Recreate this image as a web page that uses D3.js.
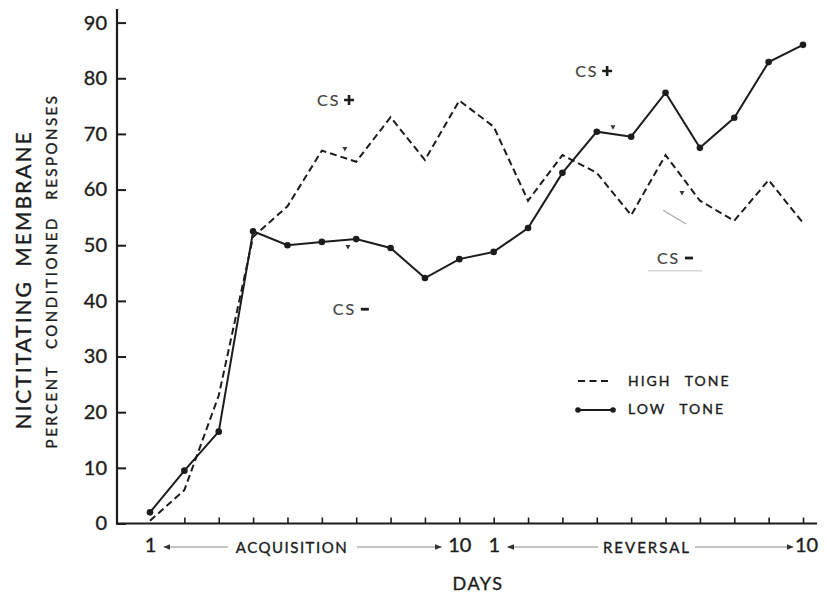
<!DOCTYPE html>
<html>
<head>
<meta charset="utf-8">
<script src="https://cdn.jsdelivr.net/npm/d3@7"></script>
<style>
  body { margin: 0; background: #fff; }
  text { font-family: Lato, "Open Sans", sans-serif; fill: #1c1c1c; stroke: #1c1c1c; stroke-width: 0.35px; }
</style>
</head>
<body>
<div id="chart"></div>
<script>
// 20 daily sessions: 10 acquisition days then 10 reversal days
const sessions = d3.range(20)
const dayLabels = ["1", "", "", "", "", "", "", "", "", "10", "1", "", "", "", "", "", "", "", "", "10"]
const highTone = [0.5, 6, 23, 51.5, 57, 67, 65, 73, 65.3, 76, 71.3, 58, 66.2, 63, 55.4, 66.2, 58, 54.4, 61.7, 54]
const lowTone = [2, 9.5, 16.5, 52.5, 50, 50.6, 51.1, 49.5, 44.1, 47.5, 48.8, 53.1, 63, 70.4, 69.5, 77.4, 67.5, 72.9, 82.9, 86]
const yTicks = [0, 10, 20, 30, 40, 50, 60, 70, 80, 90]

// CS labels, placed in data units (session index, percent)
const notes = [
    { sign: "+", x: 4.86, y: 76.1 },
    { sign: "+", x: 12.37, y: 81.3 },
    { sign: "-", x: 5.32, y: 38.5 },
    { sign: "-", x: 14.75, y: 47.7 }
]
const pointers = [[5.67, 67.3], [13.47, 71.2], [5.76, 49.7], [15.48, 59.4]]

const width = 827
const height = 593

const svg = d3.select('#chart')
    .append('svg')
    .attr('width', width)
    .attr('height', height)

const xScale = d3.scalePoint()
    .domain(sessions)
    .range([150, 803])

const yScale = d3.scaleLinear()
    .domain([0, 90])
    .range([523.5, 22.6])

const ink = '#1c1c1c'

// axes
const yAxis = d3.axisLeft(yScale)
    .tickValues(yTicks)
    .tickSizeInner(-9)
    .tickSizeOuter(0)
    .tickPadding(10)

const yAxisGroup = svg.append('g')
    .attr('transform', `translate(117, 0)`)
    .call(yAxis)
yAxisGroup.select('.domain').remove()
yAxisGroup.selectAll('line').attr('stroke', ink).attr('stroke-width', 2)
yAxisGroup.selectAll('text')
    .style('font-size', '20px')
    .attr('fill', ink)

svg.append('line')
    .attr('x1', 117).attr('x2', 117)
    .attr('y1', yScale(0) + 1).attr('y2', 9)
    .attr('stroke', ink).attr('stroke-width', 2.2)

const xAxis = d3.axisBottom(xScale)
    .tickSizeInner(-6)
    .tickSizeOuter(0)
    .tickPadding(14)
    .tickFormat(i => dayLabels[i])

const xAxisGroup = svg.append('g')
    .attr('transform', `translate(0, ${yScale(0)})`)
    .call(xAxis)
xAxisGroup.select('.domain').remove()
xAxisGroup.selectAll('line')
    .attr('stroke', ink).attr('stroke-width', 1.6)
    .attr('display', d => d === 0 ? 'none' : null)
xAxisGroup.selectAll('text')
    .style('font-size', '20px')
    .attr('fill', ink)
    .attr('dx', d => d === 19 ? 3 : 0)

svg.append('line')
    .attr('x1', 116).attr('x2', 817)
    .attr('y1', yScale(0)).attr('y2', yScale(0))
    .attr('stroke', ink).attr('stroke-width', 2.2)

// arrows under the x axis
const defs = svg.append('defs')
defs.append('marker')
    .attr('id', 'head')
    .attr('viewBox', '0 0 10 10')
    .attr('refX', 9).attr('refY', 5)
    .attr('markerWidth', 7).attr('markerHeight', 7)
    .attr('markerUnits', 'userSpaceOnUse')
    .attr('orient', 'auto-start-reverse')
    .append('path')
    .attr('d', 'M0,1 L10,5 L0,9 Z')
    .attr('fill', '#333')

const labelY = 547
const arrows = [[xScale(0) + 14, 228], [357, xScale(9) - 18], [xScale(10) + 14, 598], [695, xScale(19) - 10]]
arrows.forEach(([a, b], i) => {
    svg.append('line')
        .attr('x1', a).attr('x2', b)
        .attr('y1', labelY).attr('y2', labelY)
        .attr('stroke', '#8a8a8a').attr('stroke-width', 1.2)
        .attr(i % 2 === 0 ? 'marker-start' : 'marker-end', 'url(#head)')
})

svg.append('text')
    .attr('x', 292).attr('y', labelY + 6)
    .attr('text-anchor', 'middle')
    .style('font-size', '15px')
    .style('letter-spacing', '1.5px')
    .text('ACQUISITION')

svg.append('text')
    .attr('x', 647).attr('y', labelY + 6)
    .attr('text-anchor', 'middle')
    .style('font-size', '15px')
    .style('letter-spacing', '2px')
    .text('REVERSAL')

svg.append('text')
    .attr('x', 478).attr('y', 590)
    .attr('text-anchor', 'middle')
    .style('font-size', '18px')
    .style('letter-spacing', '1.5px')
    .text('DAYS')

// y titles
svg.append('text')
    .attr('transform', 'translate(31, 280) rotate(-90)')
    .attr('text-anchor', 'middle')
    .style('font-size', '21px')
    .style('letter-spacing', '2px')
    .style('word-spacing', '6px')
    .text('NICTITATING MEMBRANE')

svg.append('text')
    .attr('transform', 'translate(57, 271) rotate(-90)')
    .attr('text-anchor', 'middle')
    .style('font-size', '15px')
    .style('letter-spacing', '2.5px')
    .style('word-spacing', '10px')
    .text('PERCENT CONDITIONED RESPONSES')

// series
const line = d3.line()
    .x((d, i) => xScale(i))
    .y(d => yScale(d))

svg.append('path')
    .datum(highTone)
    .attr('fill', 'none')
    .attr('stroke', ink)
    .attr('stroke-width', 2)
    .attr('stroke-dasharray', '7 4')
    .attr('d', line)

svg.append('path')
    .datum(lowTone)
    .attr('fill', 'none')
    .attr('stroke', ink)
    .attr('stroke-width', 2)
    .attr('d', line)

svg.selectAll('.dot')
    .data(lowTone)
    .enter()
    .append('circle')
    .attr('class', 'dot')
    .attr('cx', (d, i) => xScale(i))
    .attr('cy', d => yScale(d))
    .attr('r', 3.3)
    .attr('fill', ink)

// CS labels
const step = xScale.step()
const dx = v => 150 + v * step

const noteGroups = svg.selectAll('.note')
    .data(notes)
    .enter()
    .append('g')
    .attr('class', 'note')
    .attr('transform', d => `translate(${dx(d.x)}, ${yScale(d.y)})`)

noteGroups.append('text')
    .attr('y', 6)
    .style('font-size', '16px')
    .style('letter-spacing', '2px')
    .style('fill', '#444')
    .style('stroke', '#444')
    .style('stroke-width', '0.2px')
    .text('CS')

noteGroups.filter(d => d.sign === '+')
    .append('path')
    .attr('d', 'M27,0 H37 M32,-5 V5')
    .attr('stroke', ink).attr('stroke-width', 2.6)

noteGroups.filter(d => d.sign === '-')
    .append('path')
    .attr('d', 'M28,0 H36')
    .attr('stroke', ink).attr('stroke-width', 2.8)

// remnants of pointer arrows
svg.selectAll('.pointer')
    .data(pointers)
    .enter()
    .append('path')
    .attr('class', 'pointer')
    .attr('transform', d => `translate(${dx(d[0])}, ${yScale(d[1])})`)
    .attr('d', 'M-2.5,-2 L2.5,-2 L0,2.5 Z')
    .attr('fill', '#333')

svg.append('line')
    .attr('x1', dx(14.93)).attr('y1', yScale(56.3))
    .attr('x2', dx(15.6)).attr('y2', yScale(53.8))
    .attr('stroke', '#aaa').attr('stroke-width', 1.2)

svg.append('line')
    .attr('x1', dx(14.49)).attr('x2', dx(16.06))
    .attr('y1', yScale(45.4)).attr('y2', yScale(45.4))
    .attr('stroke', '#d5d5d5').attr('stroke-width', 1.5)

// legend
const legend = svg.append('g').attr('transform', 'translate(578, 381)')

legend.append('line')
    .attr('x1', 0).attr('x2', 30)
    .attr('stroke', ink).attr('stroke-width', 2)
    .attr('stroke-dasharray', '7 4.5')

legend.append('line')
    .attr('x1', 0).attr('x2', 35)
    .attr('y1', 29).attr('y2', 29)
    .attr('stroke', ink).attr('stroke-width', 1.8)

legend.selectAll('circle')
    .data([0, 35])
    .enter()
    .append('circle')
    .attr('cx', d => d).attr('cy', 29).attr('r', 2.8)
    .attr('fill', ink)

legend.selectAll('.legend-label')
    .data(['HIGH TONE', 'LOW TONE'])
    .enter()
    .append('text')
    .attr('class', 'legend-label')
    .attr('x', 50).attr('y', (d, i) => 5 + i * 28)
    .style('font-size', '14px')
    .style('letter-spacing', '2px')
    .style('word-spacing', '8px')
    .text(d => d)
</script>
</body>
</html>
